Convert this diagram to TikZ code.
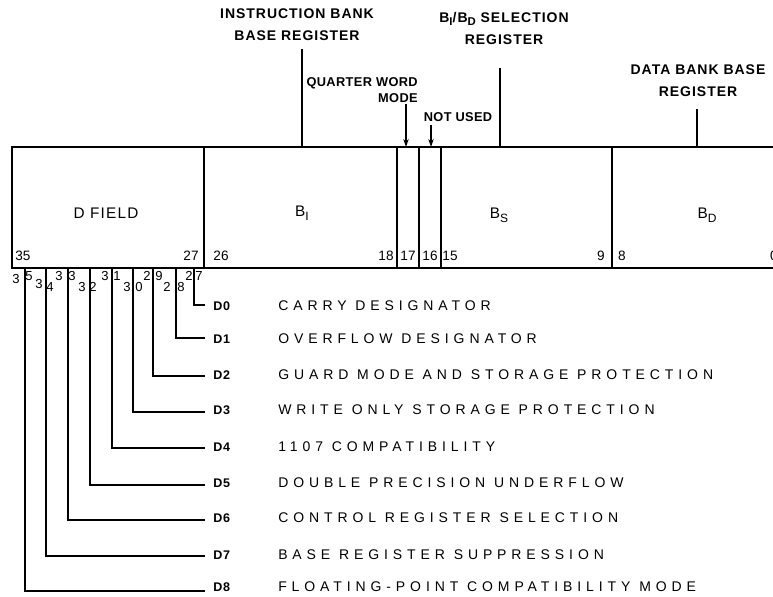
\documentclass[tikz,border=0pt]{standalone}
\usepackage{fontspec}
\setmainfont{Liberation Sans}
\newfontfamily\lblfont[LetterSpace=7]{Liberation Sans}
\newfontfamily\smlblfont[LetterSpace=3]{Liberation Sans}
\newfontfamily\descfont[LetterSpace=35]{Liberation Sans}
\newfontfamily\dlfont[LetterSpace=6]{Liberation Sans}
\newfontfamily\boxfont[LetterSpace=8]{Liberation Sans}
\usetikzlibrary{arrows.meta}
\newcommand\lowsub[1]{\raisebox{-0.5ex}{\fontsize{9}{10}\selectfont #1}}
\newcommand\toplowsub[1]{\raisebox{-0.45ex}{\fontsize{8.5}{10}\selectfont #1}}
\begin{document}
\begin{tikzpicture}[x=0.75pt,y=-0.75pt,
  toplbl/.style={font=\lblfont\bfseries\fontsize{10.5}{16.5}\selectfont, align=center, inner sep=0},
  smlbl/.style={font=\smlblfont\bfseries\fontsize{9.6}{12}\selectfont, inner sep=0},
  desc/.style={font=\descfont\fontsize{10.5}{12}\selectfont, anchor=west, inner sep=0},
  dlbl/.style={font=\dlfont\bfseries\fontsize{9.4}{11}\selectfont, anchor=west, inner sep=0},
  bitnum/.style={font=\fontsize{10.2}{11}\selectfont, inner sep=0},
  bitdig/.style={font=\fontsize{9.8}{11}\selectfont, inner sep=0},
  fieldlbl/.style={font=\boxfont\fontsize{11.5}{13}\selectfont, inner sep=0},
  regline/.style={line width=1.8pt},
  divline/.style={line width=1.3pt},
  tickline/.style={line width=0.8pt},
  ptrline/.style={line width=1pt},
  arrline/.style={line width=1pt, -{Stealth[length=6pt,width=4pt]}}]
\clip (0,0) rectangle (773,596);
% register box
\coordinate (boxTR) at (790,147);
\coordinate (boxTL) at (12,147);
\coordinate (boxBL) at (12,268);
\coordinate (boxBR) at (790,268);
\draw[regline] (boxTR) -- (boxTL) -- (boxBL) -- (boxBR);
\foreach \n/\x/\s in {d1/204/regline, d2/397/divline, d3/419/divline, d4/441/divline, d5/612/divline}{
  \coordinate (\n t) at (\x,147);
  \coordinate (\n b) at (\x,268);
  \draw[\s] (\n t) -- (\n b);
}
% field labels
\node[fieldlbl] (dfield) at (106,213) {D FIELD};
\node[fieldlbl] (bi) at (302,213) {B\lowsub{I}};
\node[fieldlbl] (bs) at (499,215) {B\lowsub{S}};
\node[fieldlbl] (bd) at (707,215) {B\lowsub{D}};
% bit numbers
\foreach \n/\x/\t in {n35/23/35, n27/191/27, n26/221/26, n18/386/18, n17/408/17, n16/430/16, n15/450/15, n9/601/9, n8/622/8, n0/774/0}{
  \node[bitnum] (\n) at (\x,256) {\t};
}
% top labels
\node[toplbl] (ibr) at (297,24.5) {INSTRUCTION BANK\\BASE REGISTER};
\node[toplbl] (sel) at (504,28.5) {B\toplowsub{I}/B\toplowsub{D} SELECTION\\REGISTER};
\node[smlbl, anchor=east] (qw1) at (418,83) {QUARTER WORD};
\node[smlbl, anchor=east] (qw2) at (418,98) {MODE};
\node[smlbl] (nu) at (458,117) {NOT USED};
\node[toplbl] (dbr) at (698,81) {DATA BANK BASE\\REGISTER};
\coordinate (ibA) at (302,49);  \coordinate (ibB) at (302,147);
\coordinate (slA) at (500,68);  \coordinate (slB) at (500,147);
\coordinate (dbA) at (697,109); \coordinate (dbB) at (697,147);
\coordinate (qwA) at (406,104); \coordinate (qwB) at (406,147);
\coordinate (nuA) at (431,125); \coordinate (nuB) at (431,147);
\draw[ptrline] (ibA) -- (ibB);
\draw[ptrline] (slA) -- (slB);
\draw[ptrline] (dbA) -- (dbB);
\draw[arrline] (qwA) -- (qwB);
\draw[arrline] (nuA) -- (nuB);
% digits below the box
\foreach \i/\x/\y/\t in {1/16/279/3, 2/29/276/5, 3/39/284/3, 4/50/287/4, 5/59/276/3, 6/72/276/3, 7/82/287/3, 8/93/287/2, 9/105/276/3, 10/117/276/1, 11/127/287/3, 12/139/287/0, 13/147/276/2, 14/159/276/9, 15/167/287/2, 16/181/287/8, 17/189/276/2, 18/199/276/7}{
  \node[bitdig] (dig\i) at (\x,\y) {\t};
}
% D bits
\foreach \i/\x/\y/\ty/\d in {
  0/194/305/306/CARRY DESIGNATOR,
  1/176/338/339/OVERFLOW DESIGNATOR,
  2/153/376/375/GUARD MODE AND STORAGE PROTECTION,
  3/133/412/410/WRITE ONLY STORAGE PROTECTION,
  4/112/448/447/1107 COMPATIBILITY,
  5/90/485/483/DOUBLE PRECISION UNDERFLOW,
  6/68/520/518/CONTROL REGISTER SELECTION,
  7/46/556/555/BASE REGISTER SUPPRESSION,
  8/25/591/587/FLOATING-POINT COMPATIBILITY MODE}{
  \coordinate (t\i) at (\x,268);
  \coordinate (e\i) at (205,\y);
  \draw[tickline] (t\i) |- (e\i);
  \node[dlbl] (D\i) at (213,\ty) {D\i};
  \node[desc] (desc\i) at (278,\ty) {\d};
}
\end{tikzpicture}
\end{document}
